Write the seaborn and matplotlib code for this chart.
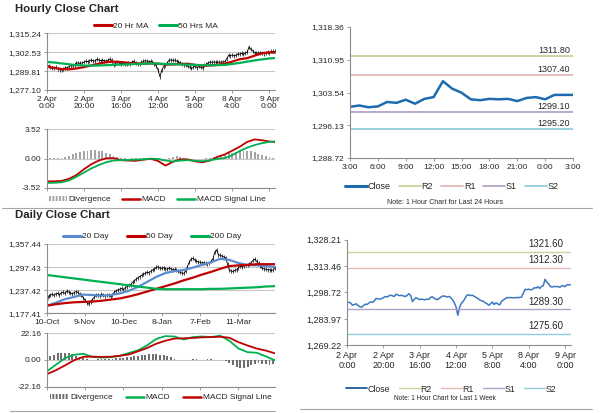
import numpy as np
import matplotlib
matplotlib.use("Agg")
import matplotlib.pyplot as plt
from matplotlib.lines import Line2D
from matplotlib.patches import Patch
import seaborn as sns

sns.set_style("white")
plt.rcParams['font.family'] = ['Liberation Sans Narrow', 'Liberation Sans', 'DejaVu Sans']

# ---- hourly data (trading hours, 2 Apr 0:00 .. 9 Apr 3:00) ----
hourly_close = [
    1292.9, 1293.3, 1292.8, 1291.6, 1292.0, 1292.4, 1291.5, 1290.8, 1290.5, 1291.3,
    1292.2, 1292.0, 1292.8, 1293.5, 1293.2, 1294.0, 1295.4, 1295.2, 1295.0, 1295.3,
    1295.8, 1296.5, 1296.2, 1296.8, 1297.2, 1296.9, 1296.5, 1297.8, 1297.3, 1296.9,
    1297.2, 1296.8, 1296.5, 1297.0, 1298.0, 1297.2, 1293.7, 1294.9, 1295.8, 1295.2,
    1294.8, 1295.0, 1294.8, 1294.6, 1295.0, 1294.9, 1296.0, 1296.3, 1295.5, 1294.9,
    1294.8, 1295.6, 1296.4, 1296.8, 1296.6, 1296.2, 1296.5, 1296.0, 1294.7, 1293.2,
    1290.7, 1286.0, 1290.5, 1292.8, 1293.8, 1295.5, 1297.2, 1297.4, 1297.0, 1297.2,
    1296.6, 1296.0, 1295.4, 1294.6, 1294.1, 1293.8, 1293.0, 1292.5, 1291.6, 1292.4,
    1293.4, 1292.0, 1293.0, 1292.3, 1291.8, 1293.7, 1294.5, 1295.2, 1295.9, 1295.8,
    1295.9, 1295.8, 1295.7, 1295.9, 1295.8, 1296.0, 1296.1, 1298.2, 1300.5,
    1300.3, 1300.6, 1300.2, 1300.4, 1301.4, 1301.2, 1301.9, 1301.0, 1302.1, 1302.5,
    1306.1, 1304.4, 1303.5, 1302.0, 1301.8, 1302.1, 1302.0, 1302.1, 1301.6, 1302.3,
    1302.5, 1302.0, 1303.0, 1303.0, 1303.0,
]
hour_ticks = [0, 20, 40, 60, 80, 100, 120]
hour_labels = ['2 Apr\n0:00', '2 Apr\n20:00', '3 Apr\n16:00', '4 Apr\n12:00',
               '5 Apr\n8:00', '8 Apr\n4:00', '9 Apr\n0:00']

ma_hours = [0, 4, 8, 12, 16, 20, 24, 28, 32, 36, 40, 44, 48, 52, 56, 60,
            64, 68, 72, 76, 80, 84, 88, 92, 96, 100, 104, 108, 112, 116, 120, 123]
ma20_hr = [1293.0, 1292.0, 1291.2, 1291.0, 1291.6, 1292.5, 1293.6, 1294.8, 1295.8, 1296.2,
           1295.9, 1295.4, 1295.0, 1294.8, 1295.0, 1294.8, 1294.2, 1294.3, 1294.6, 1294.8,
           1294.0, 1293.4, 1293.6, 1294.0, 1294.8, 1296.2, 1297.8, 1298.5, 1300.2, 1301.8,
           1302.4, 1302.3]
ma50_hr = [1296.0, 1295.6, 1295.0, 1294.4, 1293.8, 1293.5, 1293.5, 1293.6, 1293.8, 1294.0,
           1294.2, 1294.4, 1294.6, 1294.8, 1295.0, 1294.8, 1294.6, 1294.4, 1294.3, 1294.2,
           1294.0, 1293.8, 1293.7, 1293.8, 1294.0, 1294.6, 1295.3, 1296.2, 1297.0, 1297.7,
           1298.3, 1298.6]
macd_hr = [-2.75, -2.75, -2.7, -2.45, -2.0, -1.3, -0.7, -0.25, 0.02, 0.05,
           -0.2, -0.25, -0.28, -0.15, -0.03, -0.3, -0.85, -0.4, -0.1, -0.1,
           -0.35, -0.45, -0.25, 0.2, 0.5, 0.95, 1.42, 2.0, 2.3, 2.2, 2.05, 1.98]
signal_hr = [-2.95, -2.93, -2.87, -2.65, -2.2, -1.7, -1.2, -0.8, -0.45, -0.25,
             -0.2, -0.17, -0.14, -0.1, -0.02, -0.05, -0.25, -0.36, -0.25, -0.2,
             -0.28, -0.32, -0.22, -0.05, 0.05, 0.4, 0.9, 1.3, 1.62, 1.85, 2.0, 2.05]
div_hr = [0.05, 0.05, 0.06, 0.08, 0.12, 0.2, 0.35, 0.5, 0.65, 0.78,
          0.88, 0.95, 1.0, 1.0, 0.95, 0.85, 0.7, 0.5, 0.3, 0.15,
          0.05, 0.02, 0.0, 0.02, 0.05, 0.08, 0.1, 0.08, 0.05, -0.05,
          -0.2, -0.3, -0.25, 0.05, 0.2, 0.25, 0.2, 0.1, 0.0, -0.05,
          -0.1, -0.08, 0.0, 0.05, 0.1, 0.15, 0.25, 0.35, 0.5, 0.62,
          0.72, 0.8, 0.85, 0.88, 0.88, 0.85, 0.75, 0.6, 0.45, 0.3,
          0.18, 0.1]

last24_labels = ['3:00', '6:00', '9:00', '12:00', '15:00', '18:00', '21:00', '0:00', '3:00']
levels_24h = {'R2': 1311.80, 'R1': 1307.40, 'S1': 1299.10, 'S2': 1295.20}
levels_1w = {'R2': 1321.60, 'R1': 1312.30, 'S1': 1289.30, 'S2': 1275.60}

# ---- daily data (10 Oct .. 9 Apr) ----
daily_close = [
    1196, 1222, 1225, 1227, 1224, 1228, 1229, 1226, 1231, 1232,
    1229, 1235, 1233, 1230, 1228, 1231, 1234, 1232, 1227, 1224,
    1218, 1212, 1205, 1201, 1208, 1213, 1219, 1224, 1226, 1223,
    1227, 1225, 1222, 1225, 1224, 1221, 1226, 1232, 1236, 1238,
    1240, 1242, 1239, 1244, 1247, 1250, 1252, 1258, 1262, 1266,
    1270, 1273, 1276, 1279, 1281, 1284, 1283, 1287, 1290, 1292,
    1297, 1298, 1295, 1294, 1296, 1293, 1292, 1295, 1293, 1291,
    1292, 1290, 1286, 1284, 1282, 1281, 1286, 1298, 1310, 1318,
    1320, 1316, 1313, 1311, 1310, 1308, 1309, 1307, 1306, 1308,
    1312, 1318, 1336, 1342, 1330, 1328, 1326, 1324, 1322, 1305,
    1290, 1287, 1286, 1289, 1290, 1296, 1300, 1298, 1301, 1303,
    1302, 1306, 1309, 1315, 1318, 1312, 1307, 1300, 1294, 1293,
    1292, 1290, 1291, 1289, 1290, 1296,
]
day_ticks = [0, 21, 42, 63, 84, 105]
day_labels = ['10-Oct', '9-Nov', '10-Dec', '8-Jan', '7-Feb', '11-Mar']

ma_days = [0, 5, 10, 15, 20, 25, 30, 35, 40, 45, 50, 55, 60, 65, 70, 75,
           80, 85, 90, 95, 100, 105, 110, 115, 120, 125]
ma20_day = [1197, 1205, 1214, 1220, 1226, 1225, 1223, 1225, 1229, 1236, 1246, 1259, 1272,
            1282, 1287, 1290, 1296, 1303, 1310, 1319, 1316, 1308, 1303, 1302, 1300, 1298]
ma50_day = [1197, 1201, 1204, 1206, 1207, 1208, 1210, 1213, 1216, 1221, 1227, 1234, 1241,
            1248, 1255, 1263, 1270, 1278, 1285, 1293, 1300, 1302, 1303, 1305, 1305, 1305]
ma200_day = [1277, 1274, 1271, 1268, 1265, 1262, 1259, 1256, 1253, 1250, 1247, 1244, 1241,
             1240, 1240, 1240, 1240, 1240, 1241, 1241, 1242, 1243, 1244, 1245, 1247, 1248]
macd_day = [-9.5, -4, 1.5, 4.3, 5.2, 2.5, 2.0, 2.3, 3.5, 5.8, 8.0, 12.2, 17.5,
            19.8, 19.5, 17, 19, 19.5, 19, 20.2, 16, 9.5, 6.5, 6.0, 3.0, -0.3]
signal_day = [-11.8, -8.5, -4.5, -0.2, 2.6, 2.8, 2.6, 2.7, 3.5, 4.6, 7.2, 10.0, 13.5,
              16.0, 17.8, 18.0, 18.3, 18.8, 19.0, 19.3, 18.5, 14.8, 12.0, 9.5, 7.8, 5.5]
div_day = [1.5, 3.0, 4.5, 5.5, 6.0, 6.0, 5.5, 4.8, 3.5, 2.5,
           1.5, 0.5, 0.2, 0.3, 0.5, 0.8, 1.0, 1.0, 1.2, 1.3,
           1.5, 1.8, 2.2, 2.6, 3.0, 3.5, 4.0, 4.5, 4.8, 5.0,
           4.8, 4.5, 4.0, 3.2, 2.2, 1.2, 0.4, 0.0, -0.2, 0.2,
           0.6, 0.5, 0.3, 0.2, 0.5, 0.6, 0.4, 0.3, 0.2, -0.5,
           -2.5, -4.5, -6.0, -6.8, -6.5, -5.8, -4.5, -3.5, -2.8, -3.0,
           -3.5, -3.8, -3.5]

RED = '#C00000'
GREEN = '#00B050'
BLUE20 = '#5B8BD0'
AXC = '#8C8C8C'
GRID = '#C8C8C8'
LVL_COL = {'R2': '#C3D69B', 'R1': '#E6B9B8', 'S1': '#B3A2C7', 'S2': '#93CDDD'}

W, H = 600, 413
fig = plt.figure(figsize=(W / 100, H / 100), dpi=100)


def px_axes(x0, y0, x1, y1):
    return fig.add_axes([x0 / W, 1 - y1 / H, (x1 - x0) / W, (y1 - y0) / H])


def style(ax, yticks, ylabels, grid=True, size=6):
    sns.despine(ax=ax)
    for s in ('left', 'bottom'):
        ax.spines[s].set_color(AXC)
        ax.spines[s].set_linewidth(0.8)
    ax.set_yticks(yticks)
    ax.set_yticklabels(ylabels)
    ax.set_ylim(yticks[0], yticks[-1])
    ax.tick_params(axis='both', labelsize=size, length=2.5, width=0.6, color=AXC, pad=1.5,
                   direction='out')
    ax.tick_params(axis='both', left=True, bottom=True)
    if grid:
        ax.yaxis.grid(True, color=GRID, lw=0.8)
        ax.set_axisbelow(True)
    ax.set_xlabel('')
    ax.set_ylabel('')


def fmt(v):
    return f'{v:,.2f}'


hour_idx = np.arange(len(hourly_close))
day_idx = np.arange(len(daily_close))

# ---------------- Hourly Close Chart ----------------
fig.text(15 / W, 1 - 9 / H, 'Hourly Close Chart', fontsize=8.2, fontweight='bold',
         family='Liberation Sans', va='center')

ax1 = px_axes(46.7, 33.3, 275, 90)
sns.lineplot(x=hour_idx, y=hourly_close, ax=ax1, color='black', lw=0.6)
ax1.plot(hour_idx, hourly_close, ls='none', marker='|', ms=2.2, mew=0.5, color='black')
sns.lineplot(x=ma_hours, y=ma20_hr, ax=ax1, color=RED, lw=1.6)
sns.lineplot(x=ma_hours, y=ma50_hr, ax=ax1, color=GREEN, lw=1.6)
hr_yt = [1277.10, 1289.81, 1302.53, 1315.24]
style(ax1, hr_yt, [fmt(v) for v in hr_yt])
ax1.set_xlim(0, 123)
ax1.set_xticks(hour_ticks)
ax1.set_xticklabels(hour_labels, linespacing=1.1)
fig.legend(handles=[Line2D([], [], color=RED, lw=2.2), Line2D([], [], color=GREEN, lw=2.2)],
           labels=['20 Hr MA', '50 Hrs MA'], loc='center', bbox_to_anchor=(156 / W, 1 - 26 / H),
           ncol=2, frameon=False, fontsize=6, handlelength=2.2, handletextpad=0.1,
           columnspacing=1.2)

ax2 = px_axes(46.7, 129.3, 275, 187.7)
ax2.bar(hour_idx[::2], div_hr, width=1.0, color='#A6A6A6', linewidth=0)
sns.lineplot(x=ma_hours, y=macd_hr, ax=ax2, color=RED, lw=1.3)
sns.lineplot(x=ma_hours, y=signal_hr, ax=ax2, color=GREEN, lw=1.3)
style(ax2, [-3.52, 0.0, 3.52], ['-3.52', '0.00', '3.52'])
ax2.set_xlim(0, 123)
ax2.set_xticks(hour_ticks)
ax2.set_xticklabels([])
fig.legend(handles=[Patch(facecolor='#A6A6A6', hatch='|||||', edgecolor='white', lw=0),
                    Line2D([], [], color=RED, lw=1.8), Line2D([], [], color=GREEN, lw=1.8)],
           labels=['Divergence', 'MACD', 'MACD Signal Line'], loc='center',
           bbox_to_anchor=(157 / W, 1 - 199.5 / H), ncol=3, frameon=False, fontsize=6,
           handlelength=2.2, handleheight=0.6, handletextpad=0.2, columnspacing=1.3)

# ---------------- Last 24 hours ----------------
ax3 = px_axes(350, 27, 573, 158)
last24 = hourly_close[-25:]
sns.lineplot(x=np.arange(25), y=last24, ax=ax3, color='#1F6BB0', lw=1.8)
for name, lv in levels_24h.items():
    ax3.axhline(lv, color=LVL_COL[name], lw=1.3)
    ax3.annotate(f'{lv:.2f}', xy=(24, lv), xytext=(-2, 1), textcoords='offset points',
                 ha='right', va='bottom', fontsize=6.5)
r_yt = [1288.72, 1296.13, 1303.54, 1310.95, 1318.36]
style(ax3, r_yt, [fmt(v) for v in r_yt], grid=False)
ax3.set_xlim(0, 24)
ax3.set_xticks(np.arange(0, 25, 3))
ax3.set_xticklabels(last24_labels)
fig.legend(handles=[Line2D([], [], color='#1F6BB0', lw=2.2)] +
           [Line2D([], [], color=LVL_COL[n], lw=1.3) for n in ('R2', 'R1', 'S1', 'S2')],
           labels=['Close', 'R2', 'R1', 'S1', 'S2'], loc='center',
           bbox_to_anchor=(452 / W, 1 - 186.5 / H), ncol=5, frameon=False, fontsize=6.5,
           handlelength=2.4, handletextpad=0.1, columnspacing=0.9)
fig.text(445 / W, 1 - 202 / H, 'Note: 1 Hour Chart for Last 24 Hours', fontsize=5,
         ha='center', va='center')

# separators
fig.add_artist(Line2D([2 / W, 592 / W], [1 - 207.5 / H, 1 - 207.5 / H], color='#A6A6A6', lw=0.8))
fig.add_artist(Line2D([10 / W, 275 / W], [1 - 410.5 / H, 1 - 410.5 / H], color='#A6A6A6', lw=0.8))
fig.add_artist(Line2D([300 / W, 592 / W], [1 - 409 / H, 1 - 409 / H], color='#A6A6A6', lw=0.8))

# ---------------- Daily Close Chart ----------------
fig.text(15 / W, 1 - 215 / H, 'Daily Close Chart', fontsize=8.2, fontweight='bold',
         family='Liberation Sans', va='center')

ax4 = px_axes(46.7, 244, 275, 313.3)
sns.lineplot(x=day_idx, y=daily_close, ax=ax4, color='black', lw=0.6)
ax4.plot(day_idx, daily_close, ls='none', marker='|', ms=2.5, mew=0.5, color='black')
sns.lineplot(x=ma_days, y=ma20_day, ax=ax4, color=BLUE20, lw=1.6)
sns.lineplot(x=ma_days, y=ma50_day, ax=ax4, color=RED, lw=1.6)
sns.lineplot(x=ma_days, y=ma200_day, ax=ax4, color=GREEN, lw=1.6)
d_yt = [1177.41, 1237.42, 1297.43, 1357.44]
style(ax4, d_yt, [fmt(v) for v in d_yt])
ax4.set_xlim(0, 125)
ax4.set_xticks(day_ticks)
ax4.set_xticklabels(day_labels)
fig.legend(handles=[Line2D([], [], color=BLUE20, lw=2.2), Line2D([], [], color=RED, lw=2.2),
                    Line2D([], [], color=GREEN, lw=2.2)],
           labels=['20 Day', '50 Day', '200 Day'], loc='center',
           bbox_to_anchor=(152 / W, 1 - 236.5 / H), ncol=3, frameon=False, fontsize=6,
           handlelength=2.2, handletextpad=0.1, columnspacing=2.2)

ax5 = px_axes(46.7, 333.3, 275, 386.7)
ax5.bar(day_idx[::2], div_day, width=1.0, color='#6E6E6E', linewidth=0)
sns.lineplot(x=ma_days, y=macd_day, ax=ax5, color=GREEN, lw=1.3)
sns.lineplot(x=ma_days, y=signal_day, ax=ax5, color=RED, lw=1.3)
style(ax5, [-22.16, 0.0, 22.16], ['-22.16', '0.00', '22.16'])
ax5.set_xlim(0, 125)
ax5.set_xticks(day_ticks)
ax5.set_xticklabels([])
fig.legend(handles=[Patch(facecolor='#6E6E6E', hatch='|||||', edgecolor='white', lw=0),
                    Line2D([], [], color=GREEN, lw=1.8), Line2D([], [], color=RED, lw=1.8)],
           labels=['Divergence', 'MACD', 'MACD Signal Line'], loc='center',
           bbox_to_anchor=(161 / W, 1 - 397.5 / H), ncol=3, frameon=False, fontsize=6,
           handlelength=2.2, handleheight=0.6, handletextpad=0.2, columnspacing=1.5)

# ---------------- Last 1 week ----------------
ax6 = px_axes(347, 239.7, 570.5, 345.3)
sns.lineplot(x=hour_idx, y=hourly_close, ax=ax6, color='#3B78BE', lw=1.1)
for name, lv in levels_1w.items():
    ax6.axhline(lv, color=LVL_COL[name], lw=1.0)
    ax6.annotate(f'{lv:.2f}', xy=(123, lv), xytext=(-5, 2), textcoords='offset points',
                 ha='right', va='bottom', fontsize=7)
w_yt = [1269.22, 1283.97, 1298.72, 1313.46, 1328.21]
style(ax6, w_yt, [fmt(v) for v in w_yt], grid=False, size=6.5)
ax6.set_xlim(0, 123)
ax6.set_xticks(hour_ticks)
ax6.set_xticklabels(hour_labels, linespacing=1.1)
fig.legend(handles=[Line2D([], [], color='#1F5C99', lw=1.3)] +
           [Line2D([], [], color=LVL_COL[n], lw=1.0) for n in ('R2', 'R1', 'S1', 'S2')],
           labels=['Close', 'R2', 'R1', 'S1', 'S2'], loc='center',
           bbox_to_anchor=(451 / W, 1 - 389 / H), ncol=5, frameon=False, fontsize=6.3,
           handlelength=2.4, handletextpad=0.1, columnspacing=1.0)
fig.text(445 / W, 1 - 398 / H, 'Note: 1 Hour Chart for Last 1 Week', fontsize=4.7,
         ha='center', va='center')

fig.savefig('out.png', dpi=100)
